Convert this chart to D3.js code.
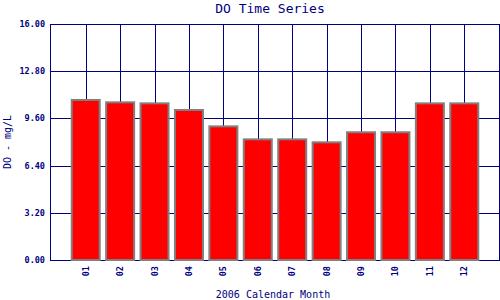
<!DOCTYPE html>
<html>
<head>
<meta charset="utf-8">
<script src="https://cdn.jsdelivr.net/npm/d3@7"></script>
<style>
body { margin: 0; background: #fff; }
text { font-family: "DejaVu Sans Mono", monospace; fill: #000080; }
</style>
</head>
<body>
<div id="chart"></div>
<script>
var months = ["01", "02", "03", "04", "05", "06", "07", "08", "09", "10", "11", "12"];
var doValues = [10.85, 10.69, 10.62, 10.17, 9.06, 8.18, 8.18, 7.98, 8.66, 8.66, 10.62, 10.62];
var yTicks = [0, 3.2, 6.4, 9.6, 12.8, 16];

var width = 500, height = 300;
var plotL = 50, plotT = 24, plotR = 499, plotB = 260;
var navy = "#000080";

var svg = d3.select("#chart").append("svg")
    .attr("width", width)
    .attr("height", height);

var x = d3.scaleLinear().domain([0, months.length + 1]).range([51.3, 498.7]);
var y = d3.scaleLinear().domain([0, 16]).range([plotB, plotT]);

function snap(v) { return Math.round(v) + 0.5; }

// horizontal grid
svg.selectAll("line.h").data(yTicks).enter().append("line")
    .attr("class", "h")
    .attr("x1", plotL).attr("x2", plotR)
    .attr("y1", function (d) { return snap(y(d)); })
    .attr("y2", function (d) { return snap(y(d)); })
    .attr("stroke", navy).attr("stroke-width", 1);

// vertical grid at month centres
svg.selectAll("line.v").data(months).enter().append("line")
    .attr("class", "v")
    .attr("x1", function (d, i) { return snap(x(i + 1)); })
    .attr("x2", function (d, i) { return snap(x(i + 1)); })
    .attr("y1", plotT).attr("y2", plotB)
    .attr("stroke", navy).attr("stroke-width", 1);

// frame
svg.append("rect")
    .attr("x", plotL + 0.5).attr("y", plotT + 0.5)
    .attr("width", plotR - plotL).attr("height", plotB - plotT)
    .attr("fill", "none").attr("stroke", navy).attr("stroke-width", 1);

// bars
svg.selectAll("rect.bar").data(doValues).enter().append("rect")
    .attr("class", "bar")
    .attr("x", function (d, i) { return x(i + 1) - 14; })
    .attr("width", 28)
    .attr("y", function (d) { return y(d); })
    .attr("height", function (d) { return plotB - y(d); })
    .attr("fill", "#ff0000")
    .attr("stroke", "#808080")
    .attr("stroke-width", 2);

// y tick labels
svg.selectAll("text.yt").data(yTicks).enter().append("text")
    .attr("class", "yt")
    .attr("x", 45)
    .attr("y", function (d) { return y(d) + 3; })
    .attr("text-anchor", "end")
    .style("font-size", "8.5px")
    .style("font-weight", "bold")
    .text(function (d) { return d.toFixed(2); });

// x tick labels, rotated
svg.selectAll("text.xt").data(months).enter().append("text")
    .attr("class", "xt")
    .attr("transform", function (d, i) { return "translate(" + (x(i + 1) + 3) + ",266) rotate(-90)"; })
    .attr("text-anchor", "end")
    .style("font-size", "8.5px")
    .style("font-weight", "bold")
    .text(function (d) { return d; });

// title
svg.append("text")
    .attr("x", 270).attr("y", 13)
    .attr("text-anchor", "middle")
    .style("font-size", "13px")
    .text("DO Time Series");

// axis titles
svg.append("text")
    .attr("x", 273).attr("y", 298)
    .attr("text-anchor", "middle")
    .style("font-size", "10px")
    .text("2006 Calendar Month");

svg.append("text")
    .attr("transform", "translate(11,142) rotate(-90)")
    .attr("text-anchor", "middle")
    .style("font-size", "10px")
    .text("DO - mg/L");
</script>
</body>
</html>
